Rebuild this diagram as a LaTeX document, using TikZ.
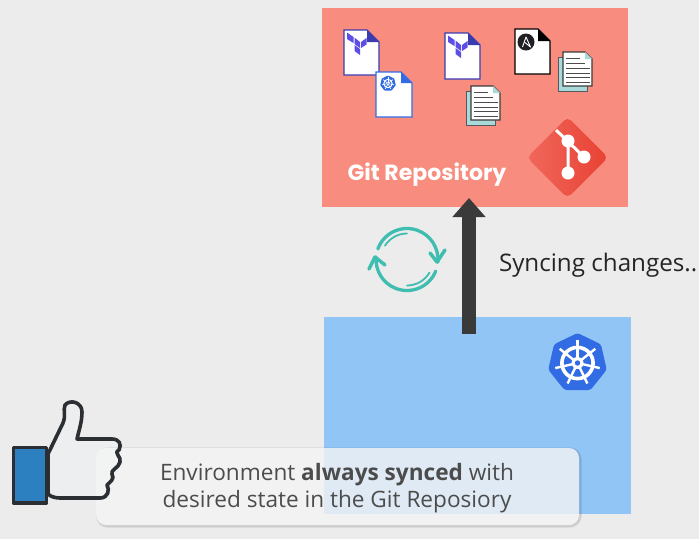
\documentclass[tikz,border=0pt]{standalone}
\usepackage{fontspec}
\setmainfont{Open Sans}
\newfontfamily\gitfont{Poppins}
\usetikzlibrary{arrows.meta,shapes.geometric,calc}
\definecolor{bgc}{HTML}{ECECEC}
\definecolor{gitc}{HTML}{F88C7E}
\definecolor{kubec}{HTML}{91C5F5}
\definecolor{k8s}{HTML}{326CE5}
\definecolor{tfc}{HTML}{5C4EE5}
\definecolor{tfd}{HTML}{3B3BB0}
\definecolor{teal}{HTML}{3FBDB0}
\definecolor{pagec}{HTML}{A8DADA}
\definecolor{darkc}{HTML}{3A3A3A}
\definecolor{inkc}{HTML}{2B2E33}
\definecolor{thumbb}{HTML}{2D80C0}
\definecolor{thumbf}{HTML}{ECEEF0}
\definecolor{gitl}{HTML}{F0685B}
\definecolor{gitd}{HTML}{E84133}
\tikzset{
  panel/.style={rectangle,inner sep=0pt,outer sep=0pt,draw=none},
  syncarrow/.style={line width=14pt,draw=darkc,-{Triangle[width=32pt,length=19pt]}},
  cyclearc/.style={draw=teal,line width=3.3pt,line cap=round},
  cycleinner/.style={draw=teal,line width=1.8pt,line cap=round},
  cyclehead/.style={draw=teal,line width=3.5pt,line cap=round,line join=round},
  sheet/.style={fill=white,line width=1.3pt,line join=miter},
  textline/.style={line width=0.8pt,draw=black!70}
}
\newcommand{\docsheet}[5]{%
  \draw[sheet,draw=#4] (0,0) -- ({#1-#3},0) -- (#1,#3) -- (#1,#2) -- (0,#2) -- cycle;
  \fill[#5] ({#1-#3},0) -- (#1,#3) -- ({#1-#3},#3) -- cycle;
}
\newcommand{\tflogo}{%
  \fill[tfc] (3,2.5) -- (9.5,7) -- (9.5,13) -- (3,9) -- cycle;
  \fill[tfc] (10.5,7.5) -- (16,12) -- (16,18) -- (10.5,14) -- cycle;
  \fill[tfc] (17,12) -- (22.5,8) -- (22.5,14.5) -- (17,18) -- cycle;
  \fill[tfc] (10.5,15) -- (16,19) -- (16,25) -- (10.5,21) -- cycle;
}
\newcommand{\kubewheel}[3]{%
  \begin{scope}[shift={(#1,#2)},y=1pt]
  \fill[k8s,rounded corners=#3*0.09pt] (90:#3) -- (38.57:#3) -- (-12.86:#3) -- (-64.29:#3) -- (-115.71:#3) -- (-167.14:#3) -- (-218.57:#3) -- cycle;
  \draw[white,line width=#3*0.12pt] (0,0) circle ({#3*0.52});
  \foreach \a in {90,38.57,-12.86,-64.29,-115.71,-167.14,-218.57}{
    \draw[white,line width=#3*0.08pt] (\a:#3*0.12) -- (\a:#3*0.76);
  }
  \fill[white] (0,0) circle ({#3*0.2});
  \fill[k8s] (0,0) circle ({#3*0.09});
  \end{scope}
}
\newcommand{\textsheet}{%
  \fill[pagec] (0,5) rectangle (29,39);
  \draw[inkc!80,line width=1pt] (0,5) rectangle (29,39);
  \begin{scope}[shift={(5,0)}]
  \draw[sheet,draw=darkc] (0,0) -- (22,0) -- (29,7) -- (29,34) -- (0,34) -- cycle;
  \fill[pagec] (22,0) -- (29,7) -- (22,7) -- cycle;
  \foreach \yy/\ee in {6/14,11/19,16/24,21/24,25.5/24,30/24}{\draw[textline] (3,\yy) -- ++(\ee,0);}
  \end{scope}
}
\newcommand{\thumbpath}{
  (48,454) -- (63,423) .. controls (66,416) and (63,410) .. (65,405)
  .. controls (70,399) and (82,402) .. (82,412) .. controls (82,422) and (79,430) .. (77,439)
  -- (112,439) .. controls (119,439) and (122,444) .. (119,450)
  .. controls (113,453) and (122,457) .. (120,462) .. controls (119,468) and (110,470) .. (112,474)
  .. controls (115,479) and (110,482) .. (107,485) .. controls (110,490) and (108,498) .. (100,498)
  -- (60,498) .. controls (54,498) and (50,496) .. (48,494) -- cycle
}
\begin{document}
\begin{tikzpicture}[x=1pt,y=-1pt]
\useasboundingbox (0,0) rectangle (699,539);
\fill[bgc] (0,0) rectangle (699,539);
\node[panel,fill=gitc,minimum width=306pt,minimum height=199pt,anchor=north west] (gitbox) at (322,8) {};
\node[panel,fill=kubec,minimum width=307pt,minimum height=197pt,anchor=north west] (kubebox) at (324,317) {};
\begin{scope}[shift={(344,30)}]\docsheet{35}{45}{12}{tfd}{tfd}\tflogo\end{scope}
\begin{scope}[shift={(376,72)}]\docsheet{36}{45}{11}{k8s}{k8s}\end{scope}
\kubewheel{388}{83.5}{8}
\begin{scope}[shift={(445,33)}]\docsheet{35}{46}{12}{tfd}{tfd}\tflogo\end{scope}
\begin{scope}[shift={(515,29)}]\docsheet{35}{45}{12}{black}{black}\end{scope}
\fill[inkc!70!black] (526,42) circle (8.5);
\draw[white,line width=0.9pt,line join=round] (522.5,47) -- (526,37) -- (530.5,47) -- (525,42.5);
\begin{scope}[shift={(558,52)}]\textsheet\end{scope}
\begin{scope}[shift={(466,86)}]\textsheet\end{scope}
\shade[left color=gitl,right color=gitd,rounded corners=5pt] (567.5,117) -- (608,157.5) -- (567.5,198) -- (527,157.5) -- cycle;
\draw[white,line width=3pt] (556,130) -- (584,157) (568,141) -- (568,173);
\fill[white] (568,141) circle (6.5) (584,157) circle (6.5) (568,173) circle (6.5);
\node[panel,text=white,anchor=center,font=\gitfont\bfseries\fontsize{22}{24}\selectfont] (gitlabel) at (427,175) {Git Repository};
\kubewheel{577.5}{363}{30}
\coordinate (syncfoot) at (469,334);
\coordinate (synctip) at (469,198);
\draw[syncarrow] (syncfoot) -- (synctip);
\begin{scope}[shift={(407,259.5)},y=1pt]
\draw[cyclearc] (160:31) arc[start angle=160,end angle=-5,radius=31];
\draw[cyclearc] (-22:31) arc[start angle=-22,end angle=-184.5,radius=31];
\draw[cycleinner] (90:26) arc[start angle=90,end angle=148,radius=26];
\draw[cycleinner] (-30:26) arc[start angle=-30,end angle=-90,radius=26];
\draw[cyclehead] (23,6.5) -- (30,-2.5) -- (38,9.5);
\draw[cyclehead] (-38,-9.5) -- (-32,2.5) -- (-22,-5.5);
\end{scope}
\node[panel,text=black!85,anchor=west,font=\fontsize{24.2}{26}\selectfont] (synclabel) at (499,265) {Syncing changes..};
\draw[inkc,fill=thumbf,line width=3.6pt,line join=round] \thumbpath;
\draw[inkc,fill=thumbb,line width=3.6pt,line join=round] (13.5,447.5) rectangle (46.5,503);
\fill[black,opacity=0.05,rounded corners=12pt] (96,447) rectangle (582,528);
\fill[black,opacity=0.08,rounded corners=11pt] (96,448) rectangle (581,527);
\fill[white,rounded corners=10pt,opacity=0.3] (96,448) rectangle (579,525);
\node[panel,fill=white,fill opacity=0.65,text opacity=1,rounded corners=10pt,minimum width=483pt,minimum height=77pt,anchor=north west] (callout) at (96,448) {};
\begin{scope}
\clip (96,448) rectangle (125,500);
\draw[inkc,line width=3.6pt,line join=round] \thumbpath;
\end{scope}
\node[panel,text=black!70,align=center,font=\fontsize{22.6}{27}\selectfont] (calloutlabel) at (337,488) {Environment \textbf{always synced} with\\desired state in the Git Reposiory};
\end{tikzpicture}
\end{document}
